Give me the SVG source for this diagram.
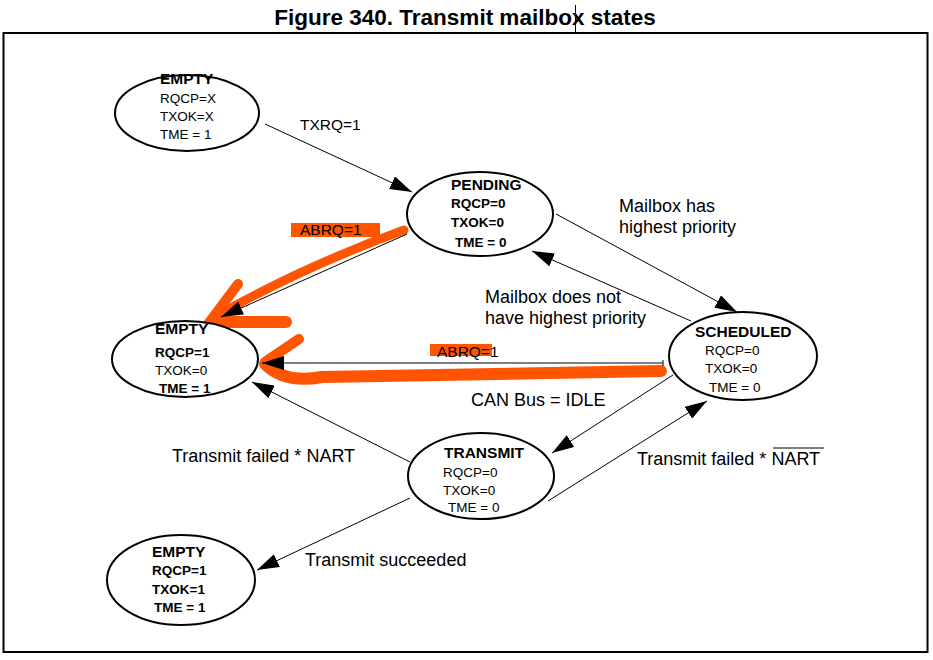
<svg xmlns="http://www.w3.org/2000/svg" width="933" height="660" viewBox="0 0 933 660">
<style>
.t{font-family:"Liberation Sans",Arial,sans-serif;fill:#000}
.title{font-size:22.5px;font-weight:bold}
.nh{font-size:15.5px;font-weight:bold}
.nv{font-size:13.5px}
.nb{font-size:13.5px;font-weight:bold}
.lb{font-size:18px}
.ab{font-size:15.5px}
.st{fill:#fff;stroke:#000;stroke-width:2}
.cn{stroke:#000;stroke-width:1;fill:none;marker-end:url(#ah)}
.or{stroke:#ff5500;fill:none;stroke-linecap:round;stroke-linejoin:round}
</style>
<defs>
<marker id="ah" markerUnits="userSpaceOnUse" markerWidth="22" markerHeight="14" viewBox="0 0 22 14" refX="22" refY="7" orient="auto">
<path d="M0,0 L22,7 L0,14 Z" fill="#000"/>
</marker>
</defs>
<rect width="933" height="660" fill="#fff"/>
<text class="t title" x="465" y="25" text-anchor="middle">Figure 340. Transmit mailbox states</text>
<line x1="575.5" y1="5" x2="575.5" y2="33" stroke="#000" stroke-width="1"/>
<rect x="3.5" y="33" width="924" height="619" fill="none" stroke="#000" stroke-width="2"/>

<g id="annotations">
<rect x="291" y="223" width="89" height="14" fill="#ff5500"/>
<rect x="430" y="344" width="62" height="12" fill="#ff5500"/>
<path class="or" stroke-width="9" d="M404,230 Q300,268 213,318"/>
<path class="or" stroke-width="10" d="M238,284 L208,324"/>
<path class="or" stroke-width="12" d="M213,322 L286,322"/>
<path class="or" stroke-width="10" d="M299,339 L265,362"/>
<path class="or" stroke-width="12" d="M265,364 Q285,384 322,377 L661,371"/>
</g>

<g id="connectors">
<line class="cn" x1="265" y1="124" x2="412" y2="192"/>
<line class="cn" x1="556" y1="214" x2="737" y2="312"/>
<line class="cn" x1="691" y1="321" x2="532" y2="251"/>
<line class="cn" x1="407" y1="234" x2="221" y2="317"/>
<line class="cn" x1="663" y1="363" x2="262" y2="363"/>
<line x1="663" y1="360" x2="663" y2="366" stroke="#000" stroke-width="1"/>
<line class="cn" x1="673" y1="375" x2="552" y2="453"/>
<line class="cn" x1="548" y1="501" x2="707" y2="401"/>
<line class="cn" x1="410" y1="462" x2="252" y2="382"/>
<line class="cn" x1="410" y1="498" x2="257" y2="570"/>
</g>

<g id="labels">
<text class="t ab" x="300" y="130">TXRQ=1</text>
<text class="t lb" x="619" y="212">Mailbox has</text>
<text class="t lb" x="619" y="233">highest priority</text>
<text class="t lb" x="485" y="303">Mailbox does not</text>
<text class="t lb" x="485" y="324">have highest priority</text>
<text class="t ab" x="300" y="235">ABRQ=1</text>
<text class="t ab" x="437" y="357">ABRQ=1</text>
<text class="t lb" x="471" y="406">CAN Bus = IDLE</text>
<text class="t lb" x="172" y="462">Transmit failed * NART</text>
<text class="t lb" x="637" y="465">Transmit failed * NART</text>
<line x1="773" y1="448" x2="824" y2="448" stroke="#000" stroke-width="1.2"/>
<text class="t lb" x="305" y="566">Transmit succeeded</text>
</g>

<g id="empty1">
<ellipse class="st" cx="187" cy="113" rx="72" ry="38"/>
<text class="t nh" x="160" y="84">EMPTY</text>
<text class="t nv" x="160" y="103">RQCP=X</text>
<text class="t nv" x="160" y="121">TXOK=X</text>
<text class="t nv" x="160" y="139">TME = 1</text>
</g>

<g id="pending">
<ellipse class="st" cx="480" cy="214" rx="73" ry="42"/>
<text class="t nh" x="451" y="190">PENDING</text>
<text class="t nb" x="451" y="208">RQCP=0</text>
<text class="t nb" x="451" y="227">TXOK=0</text>
<text class="t nb" x="455" y="247">TME = 0</text>
</g>

<g id="empty2">
<ellipse class="st" cx="185" cy="359" rx="73" ry="38"/>
<text class="t nh" x="155" y="334">EMPTY</text>
<text class="t nb" x="155" y="357">RQCP=1</text>
<text class="t nv" x="155" y="375">TXOK=0</text>
<text class="t nb" x="159" y="393">TME = 1</text>
</g>

<g id="scheduled">
<ellipse class="st" cx="743" cy="356" rx="74" ry="44"/>
<text class="t nh" x="695" y="337">SCHEDULED</text>
<text class="t nv" x="705" y="355">RQCP=0</text>
<text class="t nv" x="705" y="373">TXOK=0</text>
<text class="t nv" x="709" y="392">TME = 0</text>
</g>

<g id="transmit">
<ellipse class="st" cx="481" cy="476" rx="73" ry="43"/>
<text class="t nh" x="444" y="458">TRANSMIT</text>
<text class="t nv" x="443" y="477">RQCP=0</text>
<text class="t nv" x="443" y="495">TXOK=0</text>
<text class="t nv" x="448" y="512">TME = 0</text>
</g>

<g id="empty3">
<ellipse class="st" cx="181" cy="580" rx="74" ry="45"/>
<text class="t nh" x="152" y="557">EMPTY</text>
<text class="t nb" x="152" y="575">RQCP=1</text>
<text class="t nb" x="152" y="594">TXOK=1</text>
<text class="t nb" x="154" y="612">TME = 1</text>
</g>
</svg>
